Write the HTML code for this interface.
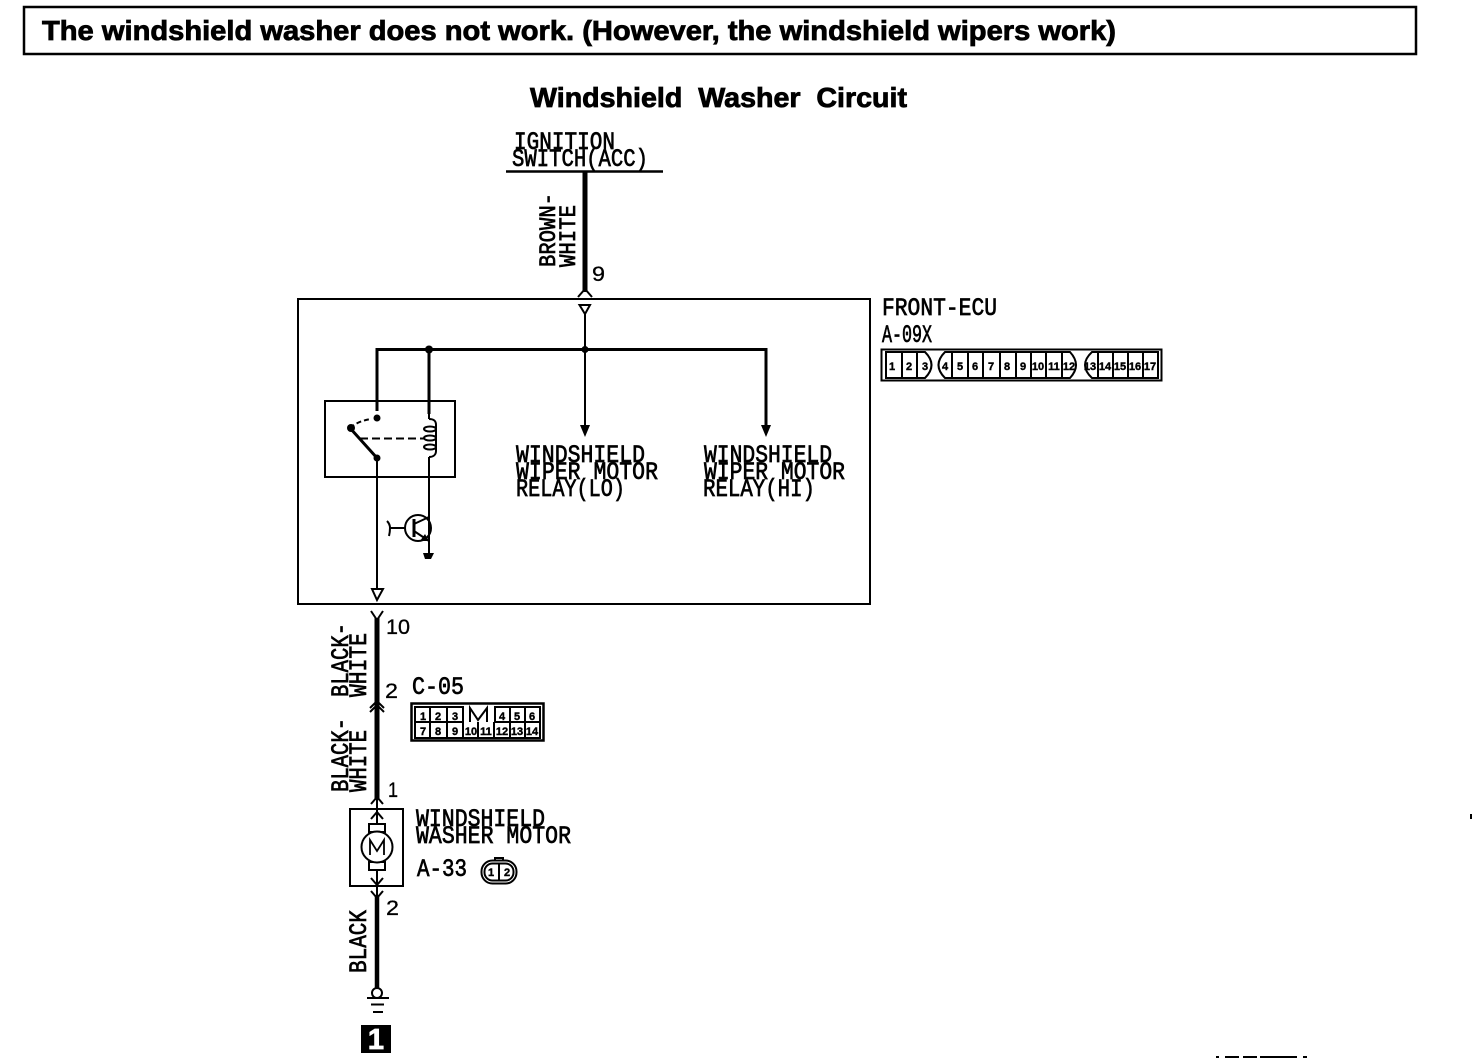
<!DOCTYPE html>
<html><head><meta charset="utf-8"><title>Windshield Washer Circuit</title>
<style>
html,body{margin:0;padding:0;background:#fff;width:1472px;height:1058px;overflow:hidden}
svg{display:block}
text{fill:#000;white-space:pre}
.h{font-family:"Liberation Sans",sans-serif;font-weight:bold;font-size:28px;stroke:#000;stroke-width:.8px}
.m{font-family:"Liberation Mono",monospace;font-size:25px;stroke:#000;stroke-width:.7px}
.n{font-family:"Liberation Sans",sans-serif;font-size:21px;stroke:#000;stroke-width:.3px}
.c{font-family:"Liberation Sans",sans-serif;font-weight:bold;font-size:11px;text-anchor:middle;stroke:#000;stroke-width:.4px}
</style></head><body>
<svg width="1472" height="1058" viewBox="0 0 1472 1058" xmlns="http://www.w3.org/2000/svg">
<rect width="1472" height="1058" fill="#fff"/>
<rect x="24" y="7" width="1392" height="47" fill="none" stroke="#000" stroke-width="2.500"/>
<text class="h" x="42" y="40" textLength="1074" lengthAdjust="spacingAndGlyphs">The windshield washer does not work. (However, the windshield wipers work)</text>
<text class="h" x="530" y="107" textLength="377" lengthAdjust="spacingAndGlyphs">Windshield  Washer  Circuit</text>

<text class="m" x="514" y="149" textLength="101" lengthAdjust="spacingAndGlyphs">IGNITION</text>
<text class="m" x="512" y="166" textLength="136" lengthAdjust="spacingAndGlyphs">SWITCH(ACC)</text>
<g fill="none" stroke="#000">
<path d="M506 171.500H663" stroke-width="2.500"/>
<path d="M585 172V292" stroke-width="5"/>
<path d="M578 297L585 289L592 297" stroke-width="2"/>
<rect x="298" y="299" width="572" height="305" stroke-width="2"/>
<path d="M579.500 305H590L585 314Z" stroke-width="2"/>
<path d="M585 314V349" stroke-width="2"/>
<path d="M377 411V349.500H766V430M429 349V414" stroke-width="3"/>
<path d="M585 349V430" stroke-width="2"/>
<rect x="325" y="401" width="130" height="76" stroke-width="2"/>
<path d="M429 419C434 419 436 421 436 425V451C436 455 433 457 429 457" stroke-width="2"/>
<ellipse cx="430" cy="429" rx="6" ry="2.500" stroke-width="2"/>
<ellipse cx="430" cy="438" rx="6" ry="2.500" stroke-width="2"/>
<ellipse cx="430" cy="447" rx="6" ry="2.500" stroke-width="2"/>
<path d="M429 414V419M429 457V553" stroke-width="2"/>
<path d="M350 428L377 458" stroke-width="3"/>
<path d="M350 428Q358 421 371 419" stroke-width="2" stroke-dasharray="5 3"/>
<path d="M360 438.500H424" stroke-width="2" stroke-dasharray="8 4"/>
<path d="M377 458V590" stroke-width="2"/>
<path d="M372 589H383L377 600Z" stroke-width="2"/>
<circle cx="418" cy="528" r="13" stroke-width="2"/>
<path d="M390 528H405M387 521Q390 524 390 528Q390 532 389 536" stroke-width="2"/>
<path d="M414 519V537" stroke-width="3"/>
<path d="M414 524L429 517M414 531L429 541" stroke-width="2"/>

<path d="M377 618V800" stroke-width="5"/>
<path d="M371 611L377 620L383 611" stroke-width="2"/>
<path d="M370 708L377 701L384 708M370 712L377 705L384 712" stroke-width="2"/>
<path d="M371 804L377 797L383 804" stroke-width="2"/>
<rect x="350" y="809" width="53" height="77" stroke-width="2"/>
<path d="M377 800V824M377 870V895" stroke-width="2"/>
<path d="M371 819L377 812L383 819M371 878L377 885L383 878M371 891L377 898L383 891" stroke-width="2"/>
<rect x="369" y="824" width="16" height="8" stroke-width="2"/>
<rect x="369" y="862" width="16" height="8" stroke-width="2"/>
<circle cx="377" cy="847" r="15.500" fill="#fff" stroke-width="2"/>
<path d="M370 855V840L377 851L384 840V855" stroke-width="1.800"/>
<path d="M377 895V988" stroke-width="4.500"/>
<circle cx="377" cy="993" r="5" stroke-width="2"/>
<path d="M367 998H389" stroke-width="2"/>
<path d="M371 1004.500H384" stroke-width="2"/>
<path d="M373 1012H383" stroke-width="2"/>
</g>
<g fill="#000">
<path d="M580 425H590L585 437ZM761 425H771L766 437Z"/>
<circle cx="429" cy="349.500" r="4"/><circle cx="585" cy="349.500" r="3.500"/>
<circle cx="377" cy="418" r="3.500"/><circle cx="377" cy="458" r="3.500"/><circle cx="351" cy="428" r="4"/>
<path d="M423 553H434L431 559H425Z"/>
<path d="M429 541L420 541L425 534Z"/>
<rect x="361" y="1025" width="30" height="28"/>
<rect x="1470" y="814" width="2" height="5"/>
<path d="M1216 1056h3v2h-3zM1225 1056h14v2h-14zM1243 1056h14v2h-14zM1260 1056h30v2h-30zM1290 1056h7v2h-7zM1303 1056h4v2h-4z"/>
</g>
<text x="376" y="1049" text-anchor="middle" font-family="Liberation Sans,sans-serif" font-weight="bold" font-size="29" style="fill:#fff;stroke:#fff;stroke-width:.8px">1</text>

<text class="m" style="font-size:23px" transform="translate(555,267) rotate(-90)" textLength="74" lengthAdjust="spacingAndGlyphs">BROWN-</text>
<text class="m" style="font-size:23px" transform="translate(575,267) rotate(-90)" textLength="62" lengthAdjust="spacingAndGlyphs">WHITE</text>
<text class="n" x="592" y="281" textLength="13" lengthAdjust="spacingAndGlyphs">9</text>

<text class="m" x="882" y="315" textLength="115" lengthAdjust="spacingAndGlyphs">FRONT-ECU</text>
<text class="m" x="882" y="342" textLength="50" lengthAdjust="spacingAndGlyphs">A-09X</text>

<text class="m" x="516" y="462" textLength="129" lengthAdjust="spacingAndGlyphs">WINDSHIELD</text>
<text class="m" x="516" y="479" textLength="142" lengthAdjust="spacingAndGlyphs">WIPER MOTOR</text>
<text class="m" x="516" y="496" textLength="109" lengthAdjust="spacingAndGlyphs">RELAY(LO)</text>
<text class="m" x="704" y="462" textLength="128" lengthAdjust="spacingAndGlyphs">WINDSHIELD</text>
<text class="m" x="704" y="479" textLength="141" lengthAdjust="spacingAndGlyphs">WIPER MOTOR</text>
<text class="m" x="703" y="496" textLength="112" lengthAdjust="spacingAndGlyphs">RELAY(HI)</text>

<text class="n" x="386" y="634" textLength="24" lengthAdjust="spacingAndGlyphs">10</text>
<text class="m" transform="translate(348,697) rotate(-90)" textLength="74" lengthAdjust="spacingAndGlyphs">BLACK-</text>
<text class="m" transform="translate(366,697) rotate(-90)" textLength="64" lengthAdjust="spacingAndGlyphs">WHITE</text>
<text class="n" x="385" y="698" textLength="13" lengthAdjust="spacingAndGlyphs">2</text>
<text class="m" x="412" y="694" textLength="52" lengthAdjust="spacingAndGlyphs">C-05</text>
<text class="m" transform="translate(348,792) rotate(-90)" textLength="74" lengthAdjust="spacingAndGlyphs">BLACK-</text>
<text class="m" transform="translate(366,792) rotate(-90)" textLength="62" lengthAdjust="spacingAndGlyphs">WHITE</text>
<text class="n" x="388" y="797" textLength="10" lengthAdjust="spacingAndGlyphs">1</text>

<text class="m" x="416" y="826" textLength="129" lengthAdjust="spacingAndGlyphs">WINDSHIELD</text>
<text class="m" x="416" y="843" textLength="155" lengthAdjust="spacingAndGlyphs">WASHER MOTOR</text>
<text class="m" x="417" y="876" textLength="50" lengthAdjust="spacingAndGlyphs">A-33</text>
<text class="n" x="386" y="915" textLength="13" lengthAdjust="spacingAndGlyphs">2</text>
<text class="m" transform="translate(366,973) rotate(-90)" textLength="63" lengthAdjust="spacingAndGlyphs">BLACK</text>

<!-- connector A-09X -->
<g fill="none" stroke="#000" stroke-width="2">
<rect x="881.500" y="349.500" width="280" height="31"/>
<path d="M886 352H925Q938 365 925 378H886ZM902 352V378M917 352V378"/>
<path d="M945 352H1070Q1082 365 1070 378H945Q932 365 945 352ZM952 352V378M968 352V378M983 352V378M1000 352V378M1016 352V378M1031 352V378M1046 352V378M1062 352V378"/>
<path d="M1092 352H1158V378H1092Q1078 365 1092 352ZM1098 352V378M1113 352V378M1128 352V378M1143 352V378"/>
</g>
<text class="c" x="892" y="370">1</text><text class="c" x="909" y="370">2</text><text class="c" x="925" y="370">3</text>
<text class="c" x="945" y="370">4</text><text class="c" x="960" y="370">5</text><text class="c" x="975" y="370">6</text><text class="c" x="991" y="370">7</text><text class="c" x="1007" y="370">8</text><text class="c" x="1023" y="370">9</text>
<text class="c" x="1038" y="370">10</text><text class="c" x="1054" y="370">11</text><text class="c" x="1069" y="370">12</text>
<text class="c" x="1090" y="370">13</text><text class="c" x="1105" y="370">14</text><text class="c" x="1120" y="370">15</text><text class="c" x="1135" y="370">16</text><text class="c" x="1150" y="370">17</text>

<!-- connector C-05 -->
<g fill="none" stroke="#000" stroke-width="2">
<rect x="411.500" y="703.500" width="132" height="37" stroke-width="2.500"/>
<path d="M415 707H463V722H415ZM430 707V738M447 707V738M463 722V738"/>
<path d="M415 722V738H540V722H495V707H540V722M510 707V738M525 707V738M478 722V738M494 722V738"/>
<path d="M470 722V708L478 720L487 708V722"/>
</g>
<text class="c" x="423" y="720">1</text><text class="c" x="438" y="720">2</text><text class="c" x="455" y="720">3</text>
<text class="c" x="502" y="720">4</text><text class="c" x="517" y="720">5</text><text class="c" x="532" y="720">6</text>
<text class="c" x="423" y="735">7</text><text class="c" x="438" y="735">8</text><text class="c" x="455" y="735">9</text>
<text class="c" x="471" y="735">10</text><text class="c" x="486" y="735">11</text><text class="c" x="502" y="735">12</text><text class="c" x="517" y="735">13</text><text class="c" x="532" y="735">14</text>

<!-- connector A-33 -->
<g fill="none" stroke="#000" stroke-width="2">
<rect x="481.500" y="860.500" width="35" height="23" rx="11"/>
<rect x="484.500" y="863.500" width="29" height="17" rx="8"/>
<path d="M495 860V858H503V860M499 864V880"/>
</g>
<text class="c" x="491" y="876">1</text><text class="c" x="507" y="876">2</text>
</svg>
</body></html>
